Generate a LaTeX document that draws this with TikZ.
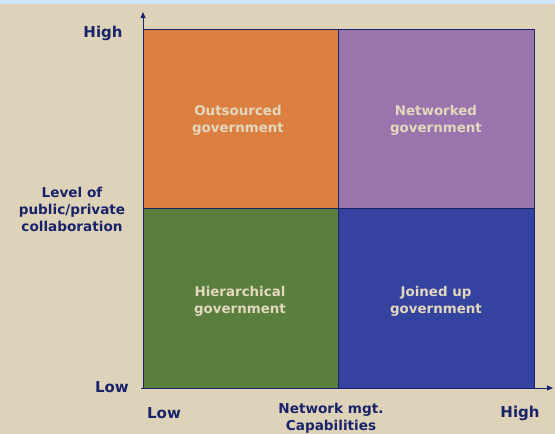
\documentclass[tikz,border=0pt]{standalone}
\usepackage{fontspec}
\setmainfont{DejaVu Sans}
\usetikzlibrary{arrows.meta}
\definecolor{bgc}{HTML}{DED3B8}
\definecolor{topc}{HTML}{CCE8F8}
\definecolor{navy}{HTML}{18236A}
\definecolor{qorange}{HTML}{DB8040}
\definecolor{qpurple}{HTML}{9A74AC}
\definecolor{qgreen}{HTML}{5A7E3E}
\definecolor{qblue}{HTML}{3442A0}
\definecolor{qtext}{HTML}{E2D8BE}
\tikzset{
  quad/.style={draw=navy, line width=0.9pt},
  qlabel/.style={text=qtext, font=\fontsize{13.4}{17}\selectfont\bfseries, align=center, inner sep=0pt},
  alabel/.style={text=navy, font=\fontsize{13.6}{17}\selectfont\bfseries, align=center, inner sep=0pt},
  axis/.style={draw=navy, line width=0.9pt, -{Triangle[length=6pt,width=5pt]}}
}
\begin{document}
\begin{tikzpicture}[x=1pt,y=-1pt]
\useasboundingbox (0,0) rectangle (555,434);
\fill[bgc] (0,0) rectangle (555,434);
\fill[topc] (0,0) rectangle (555,4);
% quadrants
\filldraw[quad, fill=qorange] (143,29) rectangle (338.5,208);
\filldraw[quad, fill=qpurple] (338.5,29) rectangle (534.5,208);
\filldraw[quad, fill=qgreen] (143,208) rectangle (338.5,388);
\filldraw[quad, fill=qblue] (338.5,208) rectangle (534.5,388);
% axes
\coordinate (o) at (143,388);
\coordinate (ytip) at (143,12);
\coordinate (xstart) at (141,388);
\coordinate (xtip) at (553,388);
\draw[axis] (o) -- (ytip);
\draw[axis] (xstart) -- (xtip);
% quadrant labels
\node[qlabel] (q1) at (238,120) {Outsourced\\government};
\node[qlabel] (q2) at (436,120) {Networked\\government};
\node[qlabel] (q3) at (240,301) {Hierarchical\\government};
\node[qlabel] (q4) at (436,301) {Joined up\\government};
% axis labels
\node[alabel, font=\fontsize{15}{17}\selectfont\bfseries] (yh) at (103,33) {High};
\node[alabel, font=\fontsize{15}{17}\selectfont\bfseries] (yl) at (112,387) {Low};
\node[alabel] (yt) at (72,209) {Level of\\public/private\\collaboration};
\node[alabel, font=\fontsize{15}{17}\selectfont\bfseries] (xl) at (164,413) {Low};
\node[alabel] (xt) at (331,418) {Network mgt.\\Capabilities};
\node[alabel, font=\fontsize{15}{17}\selectfont\bfseries] (xh) at (520,413) {High};
\end{tikzpicture}
\end{document}
